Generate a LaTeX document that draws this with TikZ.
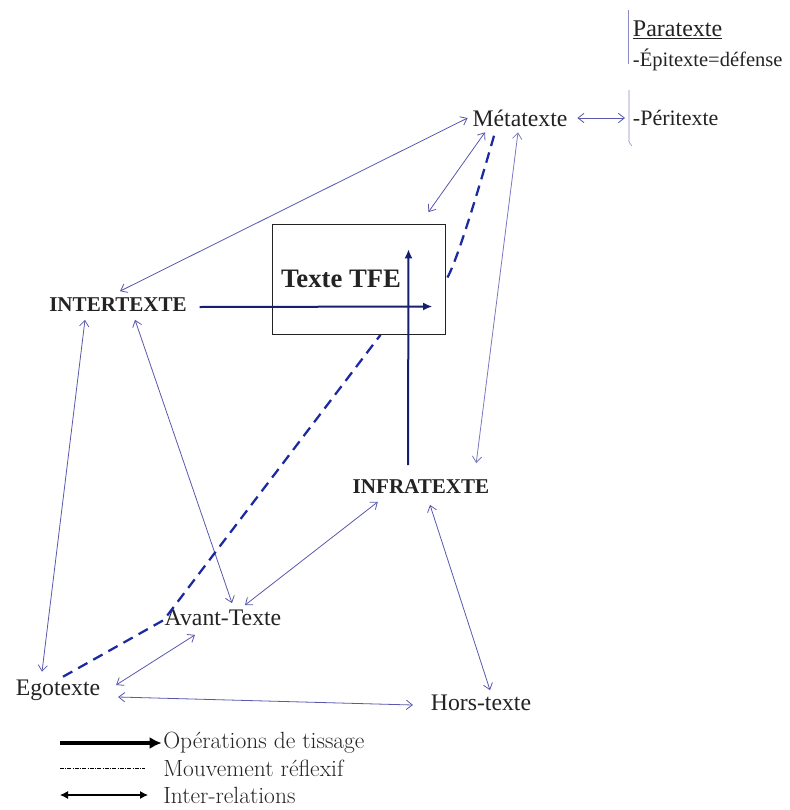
\documentclass[tikz,border=0pt]{standalone}
\usepackage{fontspec}
\usepackage[dvipsnames]{xcolor}
\usepackage{tikz}
\usetikzlibrary{arrows.meta}
\newfontfamily\tnr{Liberation Serif}
\definecolor{relblue}{RGB}{88,88,172}
\definecolor{tissblue}{RGB}{22,30,112}
\definecolor{reflblue}{RGB}{28,42,160}
\definecolor{inkgray}{RGB}{35,35,35}

\begin{document}
\begin{tikzpicture}[x=0.75pt,y=-0.75pt,
  lab/.style={text=inkgray,inner sep=2pt,font=\tnr\fontsize{17.8}{20}\selectfont},
  caps/.style={text=inkgray,inner sep=2pt,font=\tnr\bfseries\fontsize{15.8}{18}\selectfont},
  leg/.style={anchor=west,text=inkgray,inner sep=0pt,font=\fontsize{17.6}{20}\selectfont},
  rel/.style={relblue,line width=0.6pt,{Straight Barb[length=4.5pt,width=7pt]}-{Straight Barb[length=4.5pt,width=7pt]}},
  tiss/.style={tissblue,line width=1.5pt,-{Latex[length=7pt,width=6pt]}},
  refl/.style={reflblue,line width=1.7pt,dash pattern=on 8pt off 5pt}]
\useasboundingbox (0,0) rectangle (789,810);
%
\node[lab] (meta) at (520,118) {Métatexte};
\node[caps] (inter) at (118,305) {INTERTEXTE};
\node[caps] (infra) at (421,487) {INFRATEXTE};
\node[lab] (avant) at (223,618) {Avant-Texte};
\node[lab] (ego) at (58,690) {Egotexte};
\node[lab] (hors) at (481,703) {Hors-texte};
%
\node[draw=inkgray,line width=0.6pt,minimum width=129.75pt,minimum height=82.5pt] (tfe) at (358.5,279.5) {};
\node[text=inkgray,font=\tnr\bfseries\fontsize{20}{24}\selectfont] (tfetxt) at (341,279) {Texte TFE};
%
\node[lab,anchor=west,font=\tnr\fontsize{18}{20}\selectfont] (para) at (630,30) {\underline{Paratexte}};
\node[lab,anchor=west,font=\tnr\fontsize{15.4}{20}\selectfont] (epi) at (630,60) {-Épitexte=défense};
\node[lab,anchor=west,font=\tnr\fontsize{16.5}{20}\selectfont] (peri) at (630,118) {-Péritexte};
\draw[relblue!70] ([shift={(-2,-20)}]para.west) -- ([shift={(-2,4)}]epi.west);
\draw[relblue!70] ([shift={(-1,-28)}]peri.west) -- ([shift={(-1,24)}]peri.west) -- ([shift={(2,28)}]peri.west);
%
\draw[rel] ([shift={(-2,0)}]meta.west) -- ([shift={(2,-4)}]inter.north);
\draw[rel] ([shift={(-35,3)}]meta.south) -- ([shift={(-17,-12)}]tfe.north east);
\draw[rel,relblue!80] ([shift={(-2,3)}]meta.south) -- ([shift={(-16,-14)}]infra.north east);
\draw[rel] ([shift={(7,0)}]meta.east) -- ([shift={(-5,0)}]peri.west);
\draw[rel] ([shift={(-33,5)}]inter.south) -- ([shift={(-16,-5)}]ego.north);
\draw[rel] ([shift={(17,5)}]inter.south) -- ([shift={(9,-4)}]avant.north);
\draw[rel] ([shift={(28,5)}]infra.south west) -- ([shift={(22,-2)}]avant.north);
\draw[rel] ([shift={(9,8)}]infra.south) -- ([shift={(9,-2)}]hors.north);
\draw[rel] ([shift={(-28,6)}]avant.south) -- ([shift={(13,-5)}]ego.east);
\draw[rel] ([shift={(15,7)}]ego.east) -- ([shift={(-15,2)}]hors.west);
%
\draw[tiss] ([shift={(10,2)}]inter.east) -- ([shift={(-13,27)}]tfe.east);
\draw[tiss] ([shift={(-13,-12)}]infra.north) -- ([shift={(50,25)}]tfe.north);
%
\draw[refl] ([shift={(5,0)}]ego.north) -- ([shift={(2,2)}]avant.west) -- ([shift={(22,0)}]tfe.south);
\draw[refl] ([shift={(2,-2)}]tfe.east) to[out=60,in=-106,looseness=0.4] ([shift={(-25,3)}]meta.south);
%
\coordinate (k1) at (60,743);
\coordinate (k2) at (60,768);
\coordinate (k3) at (60,795);
\node[leg] (leg1) at (163,743) {Opérations de tissage};
\node[leg] (leg2) at (163,768) {Mouvement réflexif};
\node[leg] (leg3) at (163,795) {Inter-relations};
\draw[black,line width=3pt,-{Latex[length=9pt,width=9pt]}] (k1) -- ([xshift=-1pt]leg1.west);
\draw[black,very thin,dash pattern=on 3pt off 1pt on 0.6pt off 1pt] (k2) -- ([shift={(-18,0)}]leg2.west);
\draw[black,line width=0.8pt,{Latex[length=6pt,width=6pt]}-{Latex[length=6pt,width=6pt]}] (k3) -- ([shift={(-15,0)}]leg3.west);
\end{tikzpicture}
\end{document}
